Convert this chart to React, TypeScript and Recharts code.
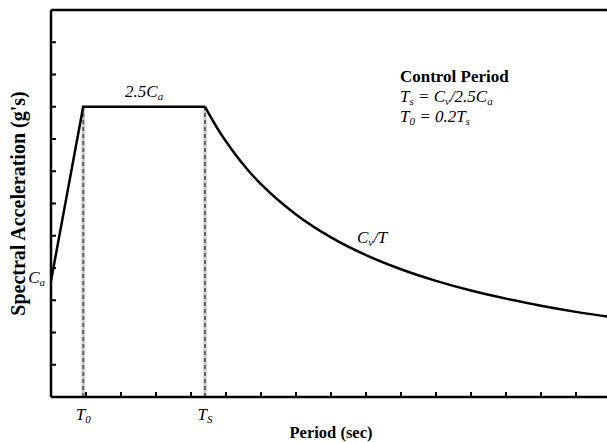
import React from 'react';
import { ComposedChart, Line, XAxis, YAxis, ReferenceLine, ReferenceDot, Label } from 'recharts';

// ---- data ----
const T0 = 0.92;
const TS = 4.4;
const CA = 3.6;
const PLATEAU = 9;

// ramp + plateau (straight segments)
const rampPeriods = [0, 0.92, 4.4];
const rampValues = [3.6, 9, 9];

// descending branch Cv/T
const decayPeriods = [4.4, 4.8, 5.2, 5.6, 6, 7, 8, 9, 10, 11, 12, 13, 14, 15, 16];
const decayValues = [9, 8.25, 7.62, 7.07, 6.6, 5.66, 4.95, 4.4, 3.96, 3.6, 3.3, 3.05, 2.83, 2.64, 2.48];

const xTickValues = [0, 1, 2, 3, 4, 5, 6, 7, 8, 9, 10, 11, 12, 13, 14, 15, 16];
const yTickValues = [0, 1, 2, 3, 4, 5, 6, 7, 8, 9, 10, 11, 12];

const rampData = rampPeriods.map((t, i) => ({ t, sa: rampValues[i] }));
const decayData = decayPeriods.map((t, i) => ({ t, sa: decayValues[i] }));

const FONT = "'Liberation Serif', 'Times New Roman', serif";

const xTicks = [...xTickValues, T0, TS].sort((a, b) => a - b);
const yTicks = [...yTickValues, CA].sort((a, b) => a - b);

const XTick = (props: any) => {
  const { x, y, payload } = props;
  const v = payload.value;
  if (v === T0 || v === TS) {
    return (
      <text x={x} y={y + 23} textAnchor="middle" fontFamily={FONT} fontStyle="italic" fontSize={17} fill="#000">
        T
        <tspan fontSize={11} dy={3}>{v === T0 ? '0' : 'S'}</tspan>
      </text>
    );
  }
  if (v <= 0 || v >= 16) return null;
  return <line x1={x} y1={y} x2={x} y2={y - 5} stroke="#000" strokeWidth={2} />;
};

const YTick = (props: any) => {
  const { x, y, payload } = props;
  const v = payload.value;
  if (v === CA) {
    return (
      <text x={x - 6} y={y + 2} textAnchor="end" fontFamily={FONT} fontStyle="italic" fontSize={17} fill="#000">
        C
        <tspan fontSize={11} dy={3}>a</tspan>
      </text>
    );
  }
  if (v <= 0 || v >= 12) return null;
  return <line x1={x} y1={y} x2={x + 5} y2={y} stroke="#000" strokeWidth={2} />;
};

const Sub = ({ children }: any) => (
  <tspan fontSize={11} dy={3}>{children}</tspan>
);
const Up = ({ children }: any) => <tspan dy={-3}>{children}</tspan>;

export default function App() {
  return (
    <div style={{ position: 'absolute', left: 8, top: 8, width: 599, height: 434, overflow: 'hidden', background: '#fff' }}>
      <ComposedChart width={620} height={434} margin={{ top: 2, right: 17, bottom: 0, left: 0 }}>
        <XAxis
          type="number"
          dataKey="t"
          domain={[0, 16]}
          ticks={xTicks}
          interval={0}
          tickSize={0}
          tickMargin={0}
          tickLine={false}
          tick={<XTick />}
          axisLine={{ stroke: '#000', strokeWidth: 2.5 }}
          height={45}
          allowDataOverflow
        >
          <Label
            content={(p: any) => {
              const vb = p.viewBox;
              return (
                <text x={vb.x + vb.width / 2} y={vb.y + 41} textAnchor="middle" fontFamily={FONT} fontWeight="bold" fontSize={16.5} fill="#000">
                  Period (sec)
                </text>
              );
            }}
          />
        </XAxis>
        <YAxis
          type="number"
          domain={[0, 12]}
          ticks={yTicks}
          interval={0}
          tickSize={0}
          tickMargin={0}
          tickLine={false}
          tick={<YTick />}
          axisLine={{ stroke: '#000', strokeWidth: 2.5 }}
          width={43}
          allowDataOverflow
        >
          <Label
            content={(p: any) => {
              const vb = p.viewBox;
              const cx = 10;
              const cy = vb.y + vb.height / 2;
              return (
                <text x={cx} y={cy} transform={`rotate(-90, ${cx}, ${cy})`} textAnchor="middle" dominantBaseline="central" fontFamily={FONT} fontWeight="bold" fontSize={20} fill="#000">
                  Spectral Acceleration (g's)
                </text>
              );
            }}
          />
        </YAxis>

        <ReferenceLine y={12} stroke="#000" strokeWidth={2.5} />
        <ReferenceLine x={16} stroke="#000" strokeWidth={2.5} />

        <ReferenceLine segment={[{ x: T0, y: 0 }, { x: T0, y: PLATEAU }]} stroke="#cccccc" strokeWidth={3.5} />
        <ReferenceLine segment={[{ x: T0, y: 0 }, { x: T0, y: PLATEAU }]} stroke="#666" strokeWidth={2} strokeDasharray="4 3" />
        <ReferenceLine segment={[{ x: TS, y: 0 }, { x: TS, y: PLATEAU }]} stroke="#cccccc" strokeWidth={3.5} />
        <ReferenceLine segment={[{ x: TS, y: 0 }, { x: TS, y: PLATEAU }]} stroke="#666" strokeWidth={2} strokeDasharray="4 3" />

        <Line data={rampData} dataKey="sa" type="linear" stroke="#000" strokeWidth={2.5} dot={false} isAnimationActive={false} />
        <Line data={decayData} dataKey="sa" type="monotone" stroke="#000" strokeWidth={2.5} dot={false} isAnimationActive={false} />

        <ReferenceDot
          x={2.66}
          y={9.3}
          r={0}
          ifOverflow="visible"
          shape={(p: any) => (
            <text x={p.cx} y={p.cy} textAnchor="middle" fontFamily={FONT} fontStyle="italic" fontSize={17} fill="#000">
              2.5C<Sub>a</Sub>
            </text>
          )}
        />
        <ReferenceDot
          x={8.74}
          y={4.78}
          r={0}
          ifOverflow="visible"
          shape={(p: any) => (
            <text x={p.cx} y={p.cy} fontFamily={FONT} fontStyle="italic" fontSize={17} fill="#000">
              C<Sub>v</Sub><Up>/T</Up>
            </text>
          )}
        />
        <ReferenceDot
          x={9.97}
          y={9.77}
          r={0}
          ifOverflow="visible"
          shape={(p: any) => (
            <g fontFamily={FONT} fill="#000">
              <text x={p.cx} y={p.cy} fontWeight="bold" fontSize={17}>Control Period</text>
              <text x={p.cx} y={p.cy + 20} fontStyle="italic" fontSize={17}>
                T<Sub>s</Sub><Up> = C</Up><Sub>v</Sub><Up>/2.5C</Up><Sub>a</Sub>
              </text>
              <text x={p.cx} y={p.cy + 40} fontStyle="italic" fontSize={17}>
                T<Sub>0</Sub><Up> = 0.2T</Up><Sub>s</Sub>
              </text>
            </g>
          )}
        />
      </ComposedChart>
    </div>
  );
}
